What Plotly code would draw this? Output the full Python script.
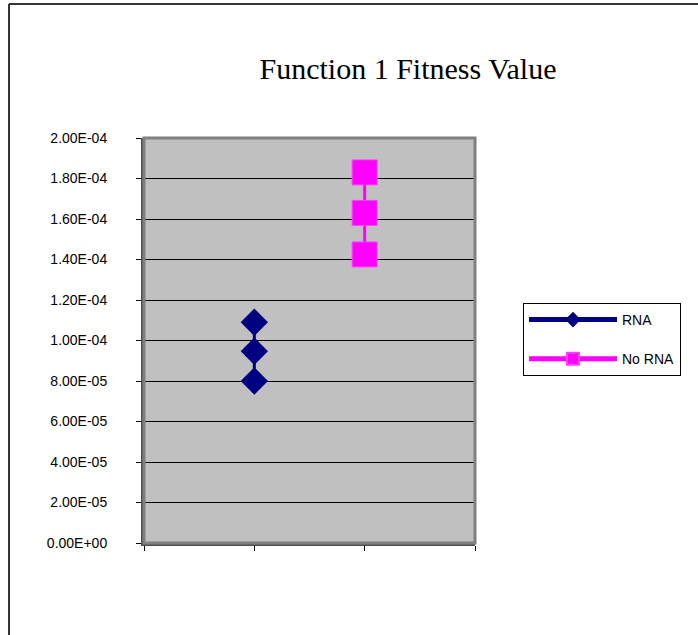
import plotly.graph_objects as go

# Data
series_names = ["RNA", "No RNA"]
rna_x = [1, 1, 1]
rna_y = [1.09e-4, 9.47e-5, 8.0e-5]
norna_x = [2, 2, 2]
norna_y = [1.83e-4, 1.63e-4, 1.425e-4]
y_tickvals = [0, 2e-5, 4e-5, 6e-5, 8e-5, 1e-4, 1.2e-4, 1.4e-4, 1.6e-4, 1.8e-4, 2e-4]
y_ticktext = ["0.00E+00", "2.00E-05", "4.00E-05", "6.00E-05", "8.00E-05", "1.00E-04",
              "1.20E-04", "1.40E-04", "1.60E-04", "1.80E-04", "2.00E-04"]
x_tickvals = [0, 1, 2, 3]

W, H = 698, 635
L, T = 144, 138
pw, ph = 331, 405
R = W - L - pw
B = H - T - ph

fig = go.Figure()
fig.add_trace(go.Scatter(
    x=rna_x, y=rna_y, name=series_names[0], mode="lines+markers",
    line=dict(color="#000080", width=3),
    marker=dict(symbol="diamond", size=21, color="#000080", line=dict(width=0)),
    legendgroup="a",
))
fig.add_trace(go.Scatter(
    x=norna_x, y=norna_y, name=series_names[1], mode="lines+markers",
    line=dict(color="#FF00FF", width=3),
    marker=dict(symbol="square", size=25, color="#FF00FF", line=dict(width=1, color="#FF40FF")),
    legendgroup="b",
))

def px_x(p):
    return (p - L) / pw
def px_y(p):
    return (H - B - p) / ph

shapes = [
    dict(type="line", xref="paper", yref="paper", x0=px_x(9), x1=px_x(9), y0=px_y(4), y1=px_y(650),
         line=dict(color="#333333", width=2)),
    dict(type="line", xref="paper", yref="paper", x0=px_x(9), x1=px_x(720), y0=px_y(4), y1=px_y(4),
         line=dict(color="#333333", width=2)),
    dict(type="rect", xref="paper", yref="paper", x0=0, x1=1, y0=0, y1=1,
         line=dict(color="#808080", width=3), layer="above"),
]

fig.update_layout(
    width=W, height=H,
    margin=dict(l=L, r=R, t=T, b=B),
    paper_bgcolor="white",
    plot_bgcolor="#C0C0C0",
    title=dict(text="Function 1 Fitness Value", x=408 / W, xanchor="center",
               y=1 - 68 / H, yanchor="middle",
               font=dict(family="Liberation Serif, Times New Roman, serif", size=30, color="black")),
    font=dict(family="Liberation Sans, Arial, sans-serif", size=14, color="black"),
    showlegend=True,
    legend=dict(
        x=px_x(523), y=px_y(303), xanchor="left", yanchor="top",
        bordercolor="black", borderwidth=1, bgcolor="white",
        itemwidth=88, tracegroupgap=18, itemsizing="constant",
        font=dict(size=14, family="Liberation Sans, Arial, sans-serif"),
        traceorder="grouped",
    ),
    shapes=shapes,
)

fig.update_xaxes(
    range=[0, 3], tickvals=x_tickvals, showticklabels=False,
    ticks="outside", ticklen=5, tickcolor="black", tickwidth=1,
    showgrid=False, zeroline=False,
    showline=True, linecolor="#505050", linewidth=3,
)
fig.update_yaxes(
    range=[0, 2e-4], tickvals=y_tickvals, ticktext=y_ticktext,
    ticks="outside", ticklen=5, tickcolor="black", tickwidth=1,
    showgrid=True, gridcolor="black", gridwidth=1, zeroline=False,
    showline=True, linecolor="#505050", linewidth=3,
    ticklabelstandoff=26,
    tickfont=dict(size=14),
)

fig.write_html("out.html", config={"displayModeBar": False},
               post_script="document.body.style.margin='0';")
